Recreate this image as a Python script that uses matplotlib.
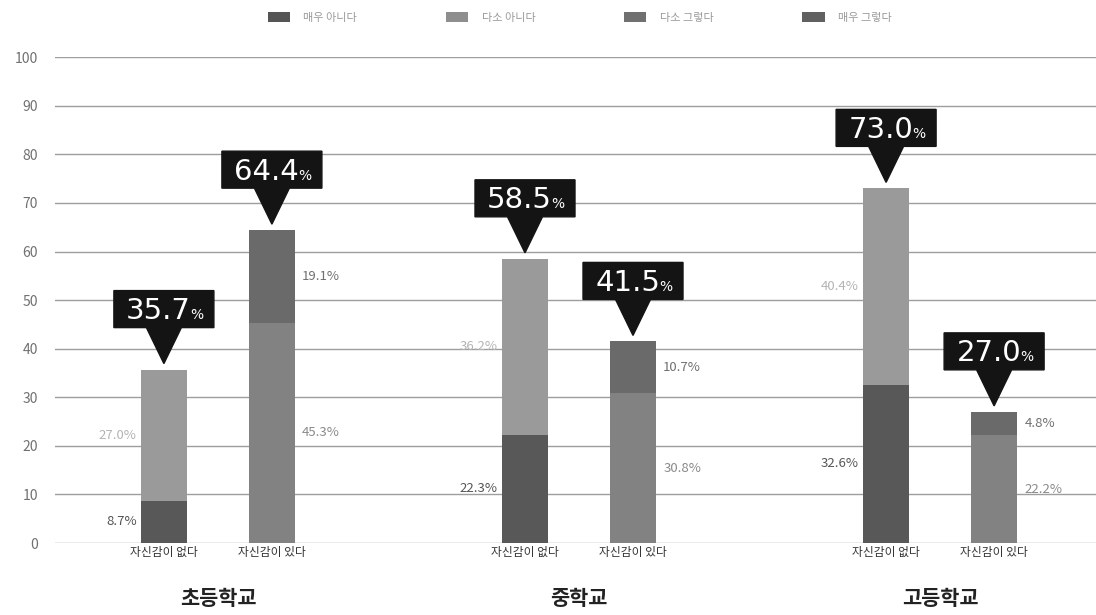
import numpy as np
import matplotlib
matplotlib.use('Agg')
import matplotlib.pyplot as plt
import matplotlib.transforms as mtransforms
from matplotlib.patches import Polygon, Patch

plt.rcParams['font.family'] = ['Noto Sans CJK KR', 'DejaVu Sans']

# survey results, percent of students
schools = ['초등학교', '중학교', '고등학교']
groups = ['자신감이 없다', '자신감이 있다']
answers = ['매우 아니다', '다소 아니다', '다소 그렇다', '매우 그렇다']

no_very = [8.7, 22.3, 32.6]      # 매우 아니다
no_some = [27.0, 36.2, 40.4]     # 다소 아니다
yes_some = [45.3, 30.8, 22.2]    # 다소 그렇다
yes_very = [19.1, 10.7, 4.8]     # 매우 그렇다
no_total = [35.7, 58.5, 73.0]
yes_total = [64.4, 41.5, 27.0]

colors = ['#585858', '#9a9a9a', '#828282', '#6a6a6a']
legend_colors = ['#555555', '#8e8e8e', '#707070', '#606060']
label_colors = ['#555555', '#b4b4b4', '#8a8a8a', '#707070']

fig = plt.figure(figsize=(10.96, 6.15), dpi=100)
ax = fig.add_axes([0.050, 0.117, 0.95, 0.790])

centers = np.arange(3) * 1.003
off = 0.15
width = 0.128
x_no = centers - off
x_yes = centers + off

ax.bar(x_no, no_very, width, color=colors[0], zorder=3)
ax.bar(x_no, no_some, width, bottom=no_very, color=colors[1], zorder=3)
ax.bar(x_yes, yes_some, width, color=colors[2], zorder=3)
ax.bar(x_yes, yes_very, width, bottom=yes_some, color=colors[3], zorder=3)

ax.set_xlim(-0.453, 2.439)
ax.set_ylim(0, 100)
ax.set_yticks(np.arange(0, 101, 10))
ax.yaxis.grid(True, color='#9e9e9e', lw=1.0)
ax.set_axisbelow(True)
for s in ax.spines.values():
    s.set_visible(False)
ax.tick_params(axis='y', length=0, pad=12, labelsize=10, labelcolor='#707070')
ax.tick_params(axis='x', length=0, pad=2, labelsize=8.5, labelcolor='#333333')

ax.set_xticks(np.concatenate([x_no, x_yes]))
ax.set_xticklabels([groups[0]] * 3 + [groups[1]] * 3)

trans = mtransforms.blended_transform_factory(ax.transData, fig.transFigure)
for c, name in zip(centers, schools):
    ax.text(c, 0.027, name, transform=trans, ha='center', va='center',
            fontsize=15, fontweight='bold', color='#222222')


def seg_label(x, y, val, side, color):
    dx = -width / 2 - 0.012 if side == 'left' else width / 2 + 0.02
    ax.text(x + dx, y, '%.1f%%' % val, ha='right' if side == 'left' else 'left',
            va='center', fontsize=9.5, color=color, zorder=4)


for i in range(3):
    seg_label(x_no[i], no_very[i] / 2, no_very[i], 'left', label_colors[0])
    seg_label(x_no[i], no_very[i] + no_some[i] / 2, no_some[i], 'left', label_colors[1])
    seg_label(x_yes[i], yes_some[i] / 2, yes_some[i], 'right', label_colors[2])
    seg_label(x_yes[i], yes_some[i] + yes_very[i] / 2, yes_very[i], 'right', label_colors[3])


def callout(x, top, val):
    # black tag with a pointer, vertices in pixels above the bar top
    tr = mtransforms.ScaledTranslation(x, top, ax.transData)
    gap, tri_h, tri_w, box_h, box_w = 6, 36, 35, 37, 100
    y0 = gap + tri_h
    verts = [(0, gap), (-tri_w / 2, y0), (-box_w / 2, y0), (-box_w / 2, y0 + box_h),
             (box_w / 2, y0 + box_h), (box_w / 2, y0), (tri_w / 2, y0)]
    ax.add_patch(Polygon(verts, closed=True, transform=tr, color='#141414',
                         zorder=5, clip_on=False))
    base = (y0 + box_h / 2 - 10) * 0.72
    ax.annotate('%.1f' % val, (x, top), xytext=(27 * 0.72, base),
                textcoords='offset points', ha='right', va='baseline',
                fontsize=21, color='white', family='DejaVu Sans', zorder=6)
    ax.annotate('%', (x, top), xytext=(26 * 0.72, base),
                textcoords='offset points', ha='left', va='baseline',
                fontsize=10, color='white', family='DejaVu Sans', zorder=6)


for i in range(3):
    callout(x_no[i], no_total[i], no_total[i])
    callout(x_yes[i], yes_total[i], yes_total[i])

handles = [Patch(facecolor=c, edgecolor='none') for c in legend_colors]
fig.legend(handles, answers, loc='center', bbox_to_anchor=(0.529, 0.972), ncol=4,
           frameon=False, fontsize=8, labelcolor='#999999', handlelength=2.0,
           handleheight=1.1, columnspacing=8.0, handletextpad=1.2)

fig.savefig('out.png', dpi=100)
